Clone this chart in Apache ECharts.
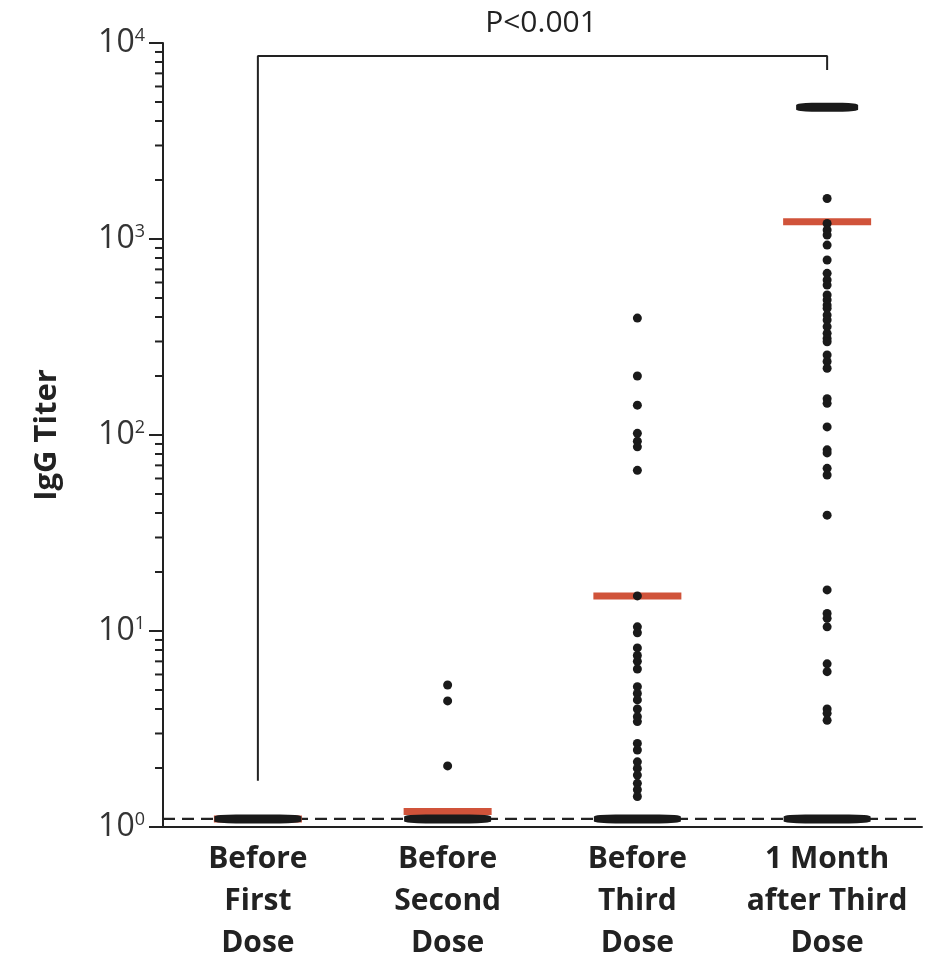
<!DOCTYPE html>
<html><head><meta charset="utf-8">
<script src="https://cdn.jsdelivr.net/npm/echarts@6/dist/echarts.min.js"></script>
<style>html,body{margin:0;padding:0;background:#fff}#c{width:933px;height:957px}</style>
</head><body><div id="c"></div>
<script>
// ---- data ----
const categories = ['Before\nFirst\nDose', 'Before\nSecond\nDose', 'Before\nThird\nDose', '1 Month\nafter Third\nDose'];
const yTickValues = [1, 10, 100, 1000, 10000];
const yTickExponents = ['0', '1', '2', '3', '4'];
const minorTickValues = [2,3,4,5,6,7,8,9, 20,30,40,50,60,70,80,90, 200,300,400,500,600,700,800,900, 2000,3000,4000,5000,6000,7000,8000,9000];
const detectionLimit = 1.1;
const medians = [1.1, 1.2, 15.1, 1225];
const limitClusterValues = [1.1, 1.1, 1.1, 1.1];
const upperClusterGroup = 3;
const upperClusterValue = 4700;
const beforeFirst = [];
const beforeSecond = [5.3, 4.4, 2.05];
const beforeThird = [395, 200, 142, 102, 93, 87, 66, 15.1, 10.5, 9.8, 8.2, 7.5, 7.0, 6.4, 5.2, 4.8, 4.45, 4.0, 3.65, 3.45, 2.67, 2.47, 2.15, 1.99, 1.84, 1.67, 1.55, 1.43];
const afterThird = [1610, 1200, 1112, 1048, 931, 781, 668, 618, 582, 518, 489, 460, 443, 409, 386, 357, 330, 311, 299, 256, 237, 219, 153, 145, 110, 84, 81, 67.6, 62.5, 39, 16.2, 12.3, 11.6, 10.5, 6.8, 6.2, 4.0, 3.8, 3.5];
const bracketX = [0, 0, 3, 3];
const bracketY = [1.72, 8590, 8590, 7280];
const pLabel = 'P<0.001';
const yAxisName = 'IgG Titer';

// ---- build ----
const FONT = 'Open Sans';
const INK = '#222';
const DOT = '#1a1a1a';
const RED = '#d0533a';
const groups = [beforeFirst, beforeSecond, beforeThird, afterThird];
const points = [];
groups.forEach((arr, gi) => arr.forEach(v => points.push([gi, v])));

const chart = echarts.init(document.getElementById('c'), null, {renderer: 'canvas'});
chart.setOption({
  backgroundColor: '#fff',
  animation: false,
  title: {
    text: pLabel, left: 541, top: 8, textAlign: 'center', padding: 0,
    textStyle: {fontFamily: FONT, fontSize: 30, fontWeight: 'normal', color: INK}
  },
  grid: {left: 163, right: 11, top: 43, bottom: 130, containLabel: false, outerBoundsMode: 'none'},
  xAxis: [{
    type: 'category', data: categories, boundaryGap: true,
    axisLine: {lineStyle: {color: INK, width: 2}},
    axisTick: {show: false},
    axisLabel: {fontFamily: FONT, fontSize: 30, fontWeight: 'bold', color: INK, lineHeight: 42, margin: 11, interval: 0}
  }, {
    type: 'value', min: 0, max: 1, show: false
  }],
  yAxis: {
    type: 'log', logBase: 10, min: 1, max: 10000,
    name: yAxisName, nameLocation: 'middle', nameGap: 100, nameRotate: 90,
    nameTextStyle: {fontFamily: FONT, fontSize: 31, fontWeight: 'bold', color: INK},
    axisLine: {show: true, lineStyle: {color: INK, width: 2}},
    axisTick: {show: true, length: 14, lineStyle: {color: INK, width: 2}},
    splitLine: {show: false},
    axisLabel: {
      margin: 18, color: '#333',
      formatter: function (v) {
        const e = Math.round(Math.log10(v));
        const i = yTickValues.indexOf(Math.pow(10, e));
        return '{b|10}{s|' + yTickExponents[i] + '}';
      },
      rich: {
        b: {fontFamily: FONT, fontSize: 32, color: '#333', lineHeight: 32},
        s: {fontFamily: FONT, fontSize: 18, color: '#333', lineHeight: 18, verticalAlign: 'top'}
      }
    }
  },
  series: [
    {
      name: 'minor ticks', type: 'scatter', xAxisIndex: 1, silent: true, clip: false,
      symbol: 'rect', symbolSize: [8, 2], symbolOffset: [-4, 0],
      itemStyle: {color: INK, opacity: 1},
      data: minorTickValues.map(v => [0, v]), z: 1
    },
    {
      name: 'bracket', type: 'line', symbol: 'none', silent: true,
      lineStyle: {color: INK, width: 2},
      data: bracketX.map((x, i) => [x, bracketY[i]])
    },
    {
      name: 'detection limit', type: 'line', xAxisIndex: 1, symbol: 'none', silent: true,
      lineStyle: {color: INK, width: 2.2, type: [12, 7]},
      data: [[0, detectionLimit], [1, detectionLimit]], z: 2
    },
    {
      name: 'median', type: 'scatter', symbol: 'rect', symbolSize: [88, 7],
      itemStyle: {color: RED, opacity: 1}, data: medians.map((v, i) => [i, v]), z: 3
    },
    {
      name: 'at detection limit', type: 'scatter', symbol: 'roundRect', symbolSize: [87, 9],
      itemStyle: {color: DOT, opacity: 1}, data: limitClusterValues.map((v, i) => [i, v]), z: 4
    },
    {
      name: 'at upper limit', type: 'scatter', symbol: 'roundRect', symbolSize: [62, 9],
      itemStyle: {color: DOT, opacity: 1}, data: [[upperClusterGroup, upperClusterValue]], z: 4
    },
    {
      name: 'titers', type: 'scatter', symbol: 'circle', symbolSize: 9,
      itemStyle: {color: DOT, opacity: 1}, data: points, z: 5
    }
  ]
});
</script>
</body></html>
